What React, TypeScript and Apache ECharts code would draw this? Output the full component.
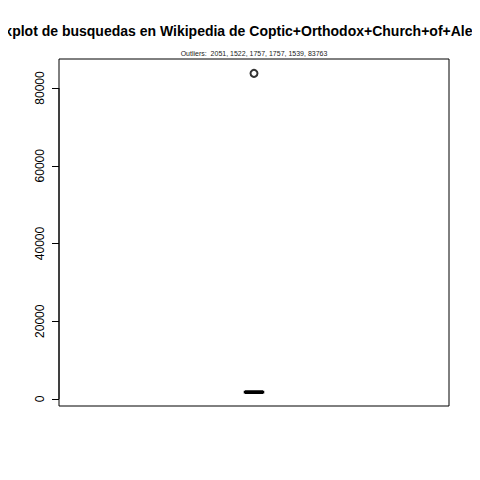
import React, { useEffect, useRef } from "react";
import * as echarts from "echarts";

const titleText = "Boxplot de busquedas en Wikipedia de Coptic+Orthodox+Church+of+Alexandria";
const outlierValues = [2051, 1522, 1757, 1757, 1539, 83763];
const shownOutliers = [83763];
const boxStats = [1600, 1720, 1757, 1800, 1900]; // min, Q1, median, Q3, max
const yTicks = [0, 20000, 40000, 60000, 80000];
const categories = ["x"];

export default function App() {
  const ref = useRef<HTMLDivElement>(null);
  useEffect(() => {
    const chart = echarts.init(ref.current!, null, { renderer: "svg" });
    chart.setOption({
      animation: false,
      backgroundColor: "#ffffff",
      textStyle: { fontFamily: "Liberation Sans" },
      grid: {
        left: 59,
        right: 31,
        top: 59,
        bottom: 74,
        show: true,
        borderColor: "#000",
        borderWidth: 1,
        backgroundColor: "transparent",
      },
      xAxis: {
        type: "category",
        data: categories,
        axisLine: { show: false },
        axisTick: { show: false },
        axisLabel: { show: false },
        splitLine: { show: false },
      },
      yAxis: {
        type: "value",
        min: -1800,
        max: 87460,
        axisLine: { show: false },
        splitLine: { show: false },
        axisTick: {
          show: true,
          length: 7,
          customValues: yTicks,
          lineStyle: { color: "#000" },
        },
        axisLabel: {
          show: true,
          customValues: yTicks,
          formatter: (v: number) => String(v),
          rotate: 90,
          margin: 13,
          fontSize: 12,
          color: "#000",
          fontFamily: "Liberation Sans",
        },
      },
      graphic: [
        {
          type: "text",
          x: 254,
          y: 31,
          style: {
            text: titleText,
            fontSize: 14,
            fontWeight: "bold",
            fontFamily: "Liberation Sans",
            fill: "#000",
            textAlign: "center",
            textVerticalAlign: "middle",
          },
        },
        {
          type: "text",
          x: 254,
          y: 53,
          style: {
            text: "Outliers:  " + outlierValues.join(", "),
            fontSize: 7,
            fontFamily: "Liberation Sans",
            fill: "#222",
            textAlign: "center",
            textVerticalAlign: "middle",
          },
        },
        {
          type: "line",
          shape: { x1: 59, y1: 88, x2: 59, y2: 399 },
          style: { stroke: "#000", lineWidth: 1 },
        },
      ],
      series: [
        {
          type: "boxplot",
          data: [boxStats],
          boxWidth: [18, 18],
          itemStyle: { color: "#fff", borderColor: "#000", borderWidth: 2.5 },
        },
        {
          type: "scatter",
          data: shownOutliers.map((v) => [0, v]),
          symbol: "emptyCircle",
          symbolSize: 7,
          itemStyle: { color: "#000", borderColor: "#000", borderWidth: 0.8 },
        },
      ],
    });
    return () => chart.dispose();
  }, []);
  return <div ref={ref} style={{ width: 480, height: 480, margin: -8 }} />;
}
